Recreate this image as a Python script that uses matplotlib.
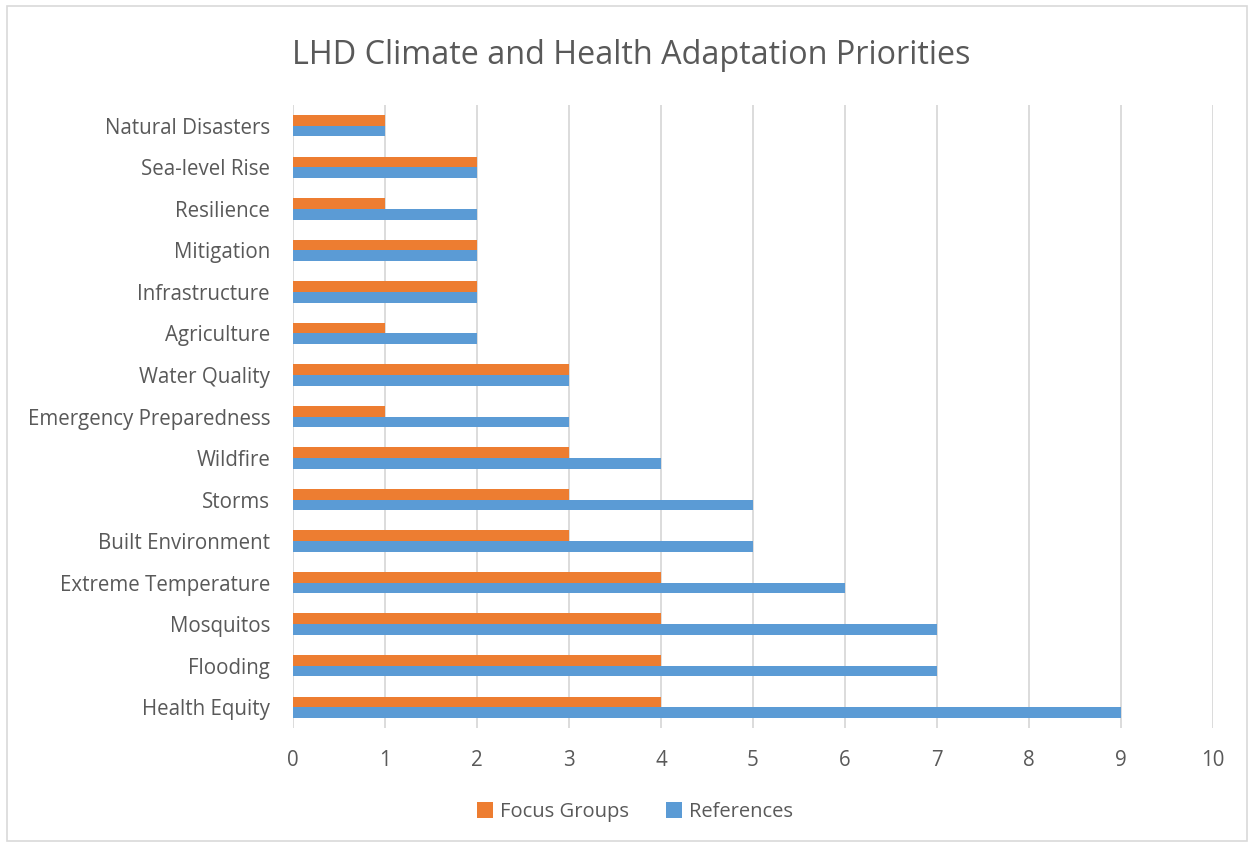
import matplotlib
matplotlib.use("Agg")
import matplotlib.pyplot as plt
from matplotlib.patches import Rectangle
import numpy as np

categories = ["Health Equity", "Flooding", "Mosquitos", "Extreme Temperature",
              "Built Environment", "Storms", "Wildfire", "Emergency Preparedness",
              "Water Quality", "Agriculture", "Infrastructure", "Mitigation",
              "Resilience", "Sea-level Rise", "Natural Disasters"]
focus_groups = [4, 4, 4, 4, 3, 3, 3, 1, 3, 1, 2, 2, 1, 2, 1]
references = [9, 7, 7, 6, 5, 5, 4, 3, 3, 2, 2, 2, 2, 2, 1]
x_ticks = list(range(0, 11))

ORANGE = "#ED7D31"
BLUE = "#5B9BD5"
TEXT = "#595959"
GRID = "#D9D9D9"

plt.rcParams['font.family'] = ['Open Sans', 'DejaVu Sans']

fig = plt.figure(figsize=(12.53, 8.48), dpi=100)
W, H = 1253, 848
ax = fig.add_axes([293 / W, 1 - 728 / H, (1213 - 293) / W, (728 - 105) / H])

y = np.arange(len(categories))
h = 0.257
ax.barh(y + h / 2, focus_groups, height=h, color=ORANGE, label="Focus Groups", zorder=3)
ax.barh(y - h / 2, references, height=h, color=BLUE, label="References", zorder=3)

ax.set_xlim(0, 10)
ax.set_ylim(-0.5, len(categories) - 0.5)
ax.set_xticks(x_ticks)
ax.set_xticklabels([str(t) for t in x_ticks])
ax.set_yticks(y)
ax.set_yticklabels(categories)
ax.tick_params(axis='both', length=0, colors=TEXT, labelsize=14.8)
ax.tick_params(axis='x', pad=16)
ax.tick_params(axis='y', pad=16.5)
ax.grid(axis='x', color=GRID, linewidth=1.3, zorder=0)
ax.grid(axis='y', visible=False)
for s in ax.spines.values():
    s.set_visible(False)

fig.text(631 / W, 1 - 55 / H, "LHD Climate and Health Adaptation Priorities",
         ha='center', va='center', fontsize=23.3, color=TEXT)

leg = fig.legend(loc='center', bbox_to_anchor=(635 / W, 1 - 812 / H), ncol=2,
                 frameon=False, fontsize=14.5, handlelength=0.8, handleheight=0.8,
                 handletextpad=0.35, columnspacing=1.8, labelcolor=TEXT)

fig.patches.append(Rectangle((7 / W, 7 / H), 1240 / W, 835 / H, transform=fig.transFigure,
                             fill=False, edgecolor=GRID, linewidth=1.2))

fig.savefig("out.png", dpi=100, facecolor="white")
